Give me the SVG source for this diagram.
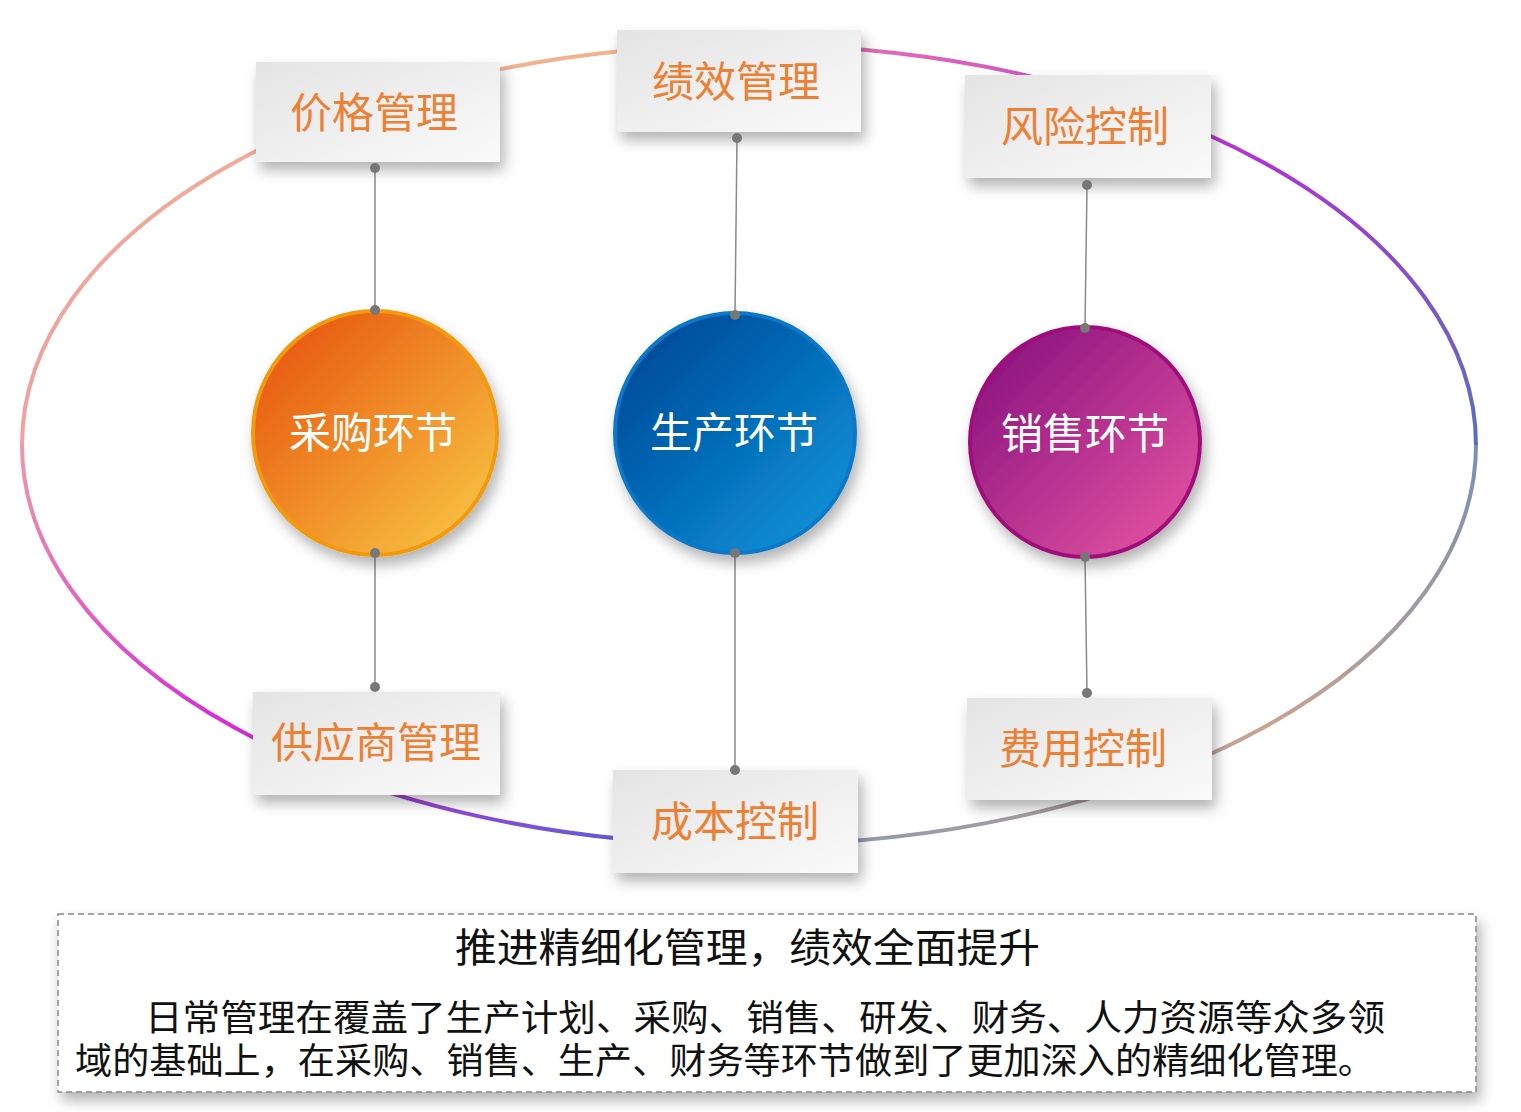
<svg xmlns="http://www.w3.org/2000/svg" width="1521" height="1112" viewBox="0 0 1521 1112">
<style>
.box{fill:url(#gb);filter:url(#sh)}
.bt{font-family:"Noto Sans CJK SC",sans-serif;font-size:42px;fill:#ec8035;text-anchor:middle}
.ct{font-family:"Noto Sans CJK SC",sans-serif;font-size:42px;fill:#fff;text-anchor:middle}
.ln{stroke:#8a8a8a;stroke-width:1.5}
.dot{fill:#777}
.tx{font-family:"Noto Sans CJK SC",sans-serif;fill:#111}
</style>
<defs>
<filter id="sh" x="-20%" y="-30%" width="150%" height="170%"><feDropShadow dx="4" dy="8" stdDeviation="7" flood-color="#000" flood-opacity="0.3"/></filter>
<linearGradient id="gb" x1="0" y1="0" x2="1" y2="1"><stop offset="0" stop-color="#e4e4e4"/><stop offset="1" stop-color="#fafafa"/></linearGradient>
<linearGradient id="g1" x1="0" y1="1" x2="1" y2="0"><stop offset="0" stop-color="#f0a0a0"/><stop offset="1" stop-color="#f2b48c"/></linearGradient>
<linearGradient id="g2" x1="0" y1="0" x2="1" y2="1"><stop offset="0" stop-color="#ec78ac"/><stop offset="0.5" stop-color="#b030d8"/><stop offset="1" stop-color="#5a70c0"/></linearGradient>
<linearGradient id="g3" x1="1" y1="0" x2="0" y2="1"><stop offset="0" stop-color="#7890b8"/><stop offset="0.5" stop-color="#c8a490"/><stop offset="1" stop-color="#8898b0"/></linearGradient>
<linearGradient id="g4" x1="1" y1="1" x2="0" y2="0"><stop offset="0" stop-color="#4868d0"/><stop offset="0.5" stop-color="#d828d8"/><stop offset="1" stop-color="#f098a8"/></linearGradient>
<linearGradient id="co" x1="0" y1="0" x2="1" y2="1"><stop offset="0.1" stop-color="#e85810"/><stop offset="0.9" stop-color="#f8c040"/></linearGradient>
<linearGradient id="cb" x1="0" y1="0" x2="1" y2="1"><stop offset="0.1" stop-color="#004a98"/><stop offset="0.9" stop-color="#0a90d8"/></linearGradient>
<linearGradient id="cm" x1="0" y1="0" x2="1" y2="1"><stop offset="0.1" stop-color="#8c1480"/><stop offset="0.9" stop-color="#e050a0"/></linearGradient>
</defs>
<rect width="1521" height="1112" fill="#fff"/>
<g id="ring" fill="none" stroke-width="4">
<path d="M22,445 A727,400 0 0 1 749,45" stroke="url(#g1)"/>
<path d="M749,45 A727,400 0 0 1 1476,445" stroke="url(#g2)"/>
<path d="M1476,445 A727,400 0 0 1 749,845" stroke="url(#g3)"/>
<path d="M749,845 A727,400 0 0 1 22,445" stroke="url(#g4)"/>
</g>
<g id="connectors">
<line class="ln" x1="375" y1="168" x2="375" y2="310"/>
<line class="ln" x1="737" y1="138" x2="735" y2="315"/>
<line class="ln" x1="1087" y1="185" x2="1085" y2="328"/>
<line class="ln" x1="375" y1="553" x2="375" y2="687"/>
<line class="ln" x1="735" y1="553" x2="735" y2="770"/>
<line class="ln" x1="1085" y1="557" x2="1087" y2="693"/>
</g>
<g id="n-caigou"><circle cx="375" cy="433" r="122" fill="url(#co)" stroke="#f29a10" stroke-width="4" filter="url(#sh)"/><text class="ct" x="373" y="448">采购环节</text></g>
<g id="n-shengchan"><circle cx="735" cy="433" r="120" fill="url(#cb)" stroke="#0878c8" stroke-width="4" filter="url(#sh)"/><text class="ct" x="734" y="448">生产环节</text></g>
<g id="n-xiaoshou"><circle cx="1085" cy="442" r="115" fill="url(#cm)" stroke="#a0107a" stroke-width="4" filter="url(#sh)"/><text class="ct" x="1085" y="449">销售环节</text></g>
<g id="b1"><rect class="box" x="256" y="62" width="244" height="100"/><text class="bt" x="374" y="128">价格管理</text></g>
<g id="b2"><rect class="box" x="617" y="30" width="244" height="102"/><text class="bt" x="736" y="97">绩效管理</text></g>
<g id="b3"><rect class="box" x="965" y="75" width="246" height="103"/><text class="bt" x="1085" y="142">风险控制</text></g>
<g id="b4"><rect class="box" x="253" y="692" width="247" height="103"/><text class="bt" x="376" y="758">供应商管理</text></g>
<g id="b5"><rect class="box" x="613" y="770" width="245" height="103"/><text class="bt" x="735" y="837">成本控制</text></g>
<g id="b6"><rect class="box" x="967" y="698" width="245" height="102"/><text class="bt" x="1083" y="764">费用控制</text></g>
<g id="dots">
<circle class="dot" cx="375" cy="168" r="5"/><circle class="dot" cx="375" cy="310" r="5"/>
<circle class="dot" cx="737" cy="138" r="5"/><circle class="dot" cx="735" cy="315" r="5"/>
<circle class="dot" cx="1087" cy="185" r="5"/><circle class="dot" cx="1085" cy="328" r="5"/>
<circle class="dot" cx="375" cy="553" r="5"/><circle class="dot" cx="375" cy="687" r="5"/>
<circle class="dot" cx="735" cy="553" r="5"/><circle class="dot" cx="735" cy="770" r="5"/>
<circle class="dot" cx="1085" cy="557" r="5"/><circle class="dot" cx="1087" cy="693" r="5"/>
</g>
<g id="note">
<rect x="58" y="914" width="1418" height="178" fill="#fff" stroke="#888" stroke-width="1.5" stroke-dasharray="6,4" filter="url(#sh)"/>
<text class="tx" x="455" y="962" font-size="40" textLength="585" lengthAdjust="spacingAndGlyphs">推进精细化管理，绩效全面提升</text>
<text class="tx" x="145" y="1031" font-size="36" textLength="1240" lengthAdjust="spacingAndGlyphs">日常管理在覆盖了生产计划、采购、销售、研发、财务、人力资源等众多领</text>
<text class="tx" x="75" y="1074" font-size="36" textLength="1300" lengthAdjust="spacingAndGlyphs">域的基础上，在采购、销售、生产、财务等环节做到了更加深入的精细化管理。</text>
</g>
</svg>
